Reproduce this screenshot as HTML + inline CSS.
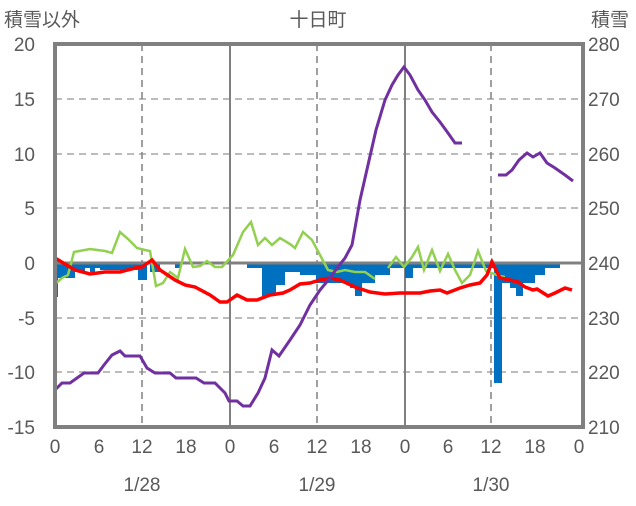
<!DOCTYPE html>
<html><head><meta charset="utf-8"><style>
body{margin:0;background:#fff;}
svg text{font-family:"Liberation Sans","Noto Sans CJK JP",sans-serif;fill:#595959;font-size:19px;}
</style></head><body>
<svg width="636" height="501" viewBox="0 0 636 501" xmlns="http://www.w3.org/2000/svg">
<g stroke="#a6a6a6" stroke-width="1.5" stroke-dasharray="7,5">
<line x1="55" y1="99" x2="583" y2="99"/><line x1="55" y1="154" x2="583" y2="154"/><line x1="55" y1="208" x2="583" y2="208"/>
<line x1="55" y1="318" x2="583" y2="318"/><line x1="55" y1="372" x2="583" y2="372"/>
</g>
<g stroke="#808080" stroke-width="1.5" stroke-dasharray="7,5">
<line x1="142" y1="44" x2="142" y2="427"/><line x1="317" y1="44" x2="317" y2="427"/><line x1="491" y1="44" x2="491" y2="427"/>
</g>
<g stroke="#808080" stroke-width="2">
<line x1="230" y1="44" x2="230" y2="427"/><line x1="405" y1="44" x2="405" y2="427"/>
</g>
<path fill="#0070c0" d="M55,263 L55,297 L58,297 L58,278 L75,278 L75,272 L85,272 L85,268 L90,268 L90,272 L95,272 L95,268 L100,268 L100,270 L138,270 L138,280 L147,280 L147,263 L150,263 L150,272 L160,272 L160,263 L175,263 L175,268 L180,268 L180,263 Z"/>
<path fill="#0070c0" d="M247,263 L247,268 L262,268 L262,296 L276,296 L276,285 L285,285 L285,272 L300,272 L300,275 L316,275 L316,283 L350,283 L350,288 L355,288 L355,296 L362,296 L362,283 L375,283 L375,275 L390,275 L390,268 L405,268 L405,278 L413,278 L413,268 L494,268 L494,383 L502,383 L502,283 L510,283 L510,288 L516,288 L516,296 L523,296 L523,283 L535,283 L535,275 L545,275 L545,268 L560,268 L560,263 Z"/>
<line x1="55" y1="263" x2="583" y2="263" stroke="#808080" stroke-width="3"/>
<polyline fill="none" stroke="#92d050" stroke-width="2.5" points="55,284 62,278 68,275 74,252 90,249 105,251 112,253 120,232 128,239 137,248 145,250 150,251 156,286 163,283 170,272 178,278 185,249 193,267 200,266 207,261 215,267 222,267 233,255 243,232 251,222 258,245 265,238 272,245 280,238 290,244 295,248 303,232 312,240 320,255 328,270 337,272 345,270 355,272 365,272 375,279"/>
<polyline fill="none" stroke="#92d050" stroke-width="2.5" points="388,268 396,257 404,267 412,257 418,247 424,270 432,250 440,271 448,254 455,270 462,283 470,275 478,251 486,271 500,276 505,277"/>
<polyline fill="none" stroke="#ff0000" stroke-width="3.5" points="55,258 75,270 90,274 105,272 120,272 135,268 142,267 152,260 160,270 175,280 185,285 195,287 210,295 220,302 227,302 237,295 247,300 257,300 270,295 283,293 290,290 300,284 310,283 320,280 330,278 340,280 355,287 370,292 385,294 400,293 420,293 430,291 440,290 447,293 460,288 470,285 480,283 487,275 492,262 500,278 510,280 518,282 525,287 533,290 537,289 548,296 555,293 565,288 572,290"/>
<polyline fill="none" stroke="#7030a0" stroke-width="3" points="55,390 62,383 70,383 77,378 84,373 98,373 104,365 112,355 120,351 125,356 140,356 147,368 155,373 170,373 176,378 196,378 204,383 215,383 225,393 229,401 237,401 243,406 250,406 258,393 265,378 272,350 279,356 290,340 300,325 310,305 320,290 330,278 337,268 345,258 352,245 360,200 368,165 376,130 385,100 392,85 398,75 404,67 410,75 418,90 425,100 432,112 440,122 448,133 455,143 462,143"/>
<polyline fill="none" stroke="#7030a0" stroke-width="3" points="498,175 506,175 512,170 519,160 527,153 533,157 540,153 547,163 555,168 565,175 573,181"/>
<rect x="55" y="44" width="528" height="383" fill="none" stroke="#808080" stroke-width="4"/>
<g text-anchor="end">
<text x="35" y="51">20</text><text x="35" y="106">15</text><text x="35" y="161">10</text><text x="35" y="215">5</text>
<text x="35" y="270">0</text><text x="35" y="325">-5</text><text x="35" y="379">-10</text><text x="35" y="434">-15</text>
</g>
<g>
<text x="588" y="51">280</text><text x="588" y="106">270</text><text x="588" y="161">260</text><text x="588" y="215">250</text>
<text x="588" y="270">240</text><text x="588" y="325">230</text><text x="588" y="379">220</text><text x="588" y="434">210</text>
</g>
<g text-anchor="middle">
<text x="55" y="453">0</text><text x="99" y="453">6</text><text x="142" y="453">12</text><text x="186" y="453">18</text>
<text x="230" y="453">0</text><text x="274" y="453">6</text><text x="317" y="453">12</text><text x="361" y="453">18</text>
<text x="405" y="453">0</text><text x="448" y="453">6</text><text x="491" y="453">12</text><text x="535" y="453">18</text><text x="579" y="453">0</text>
<text x="142" y="491">1/28</text><text x="317" y="491">1/29</text><text x="491" y="491">1/30</text>
<text x="318" y="26">十日町</text>
</g>
<text x="4" y="26">積雪以外</text>
<text x="591" y="26">積雪</text>
</svg>
</body></html>
